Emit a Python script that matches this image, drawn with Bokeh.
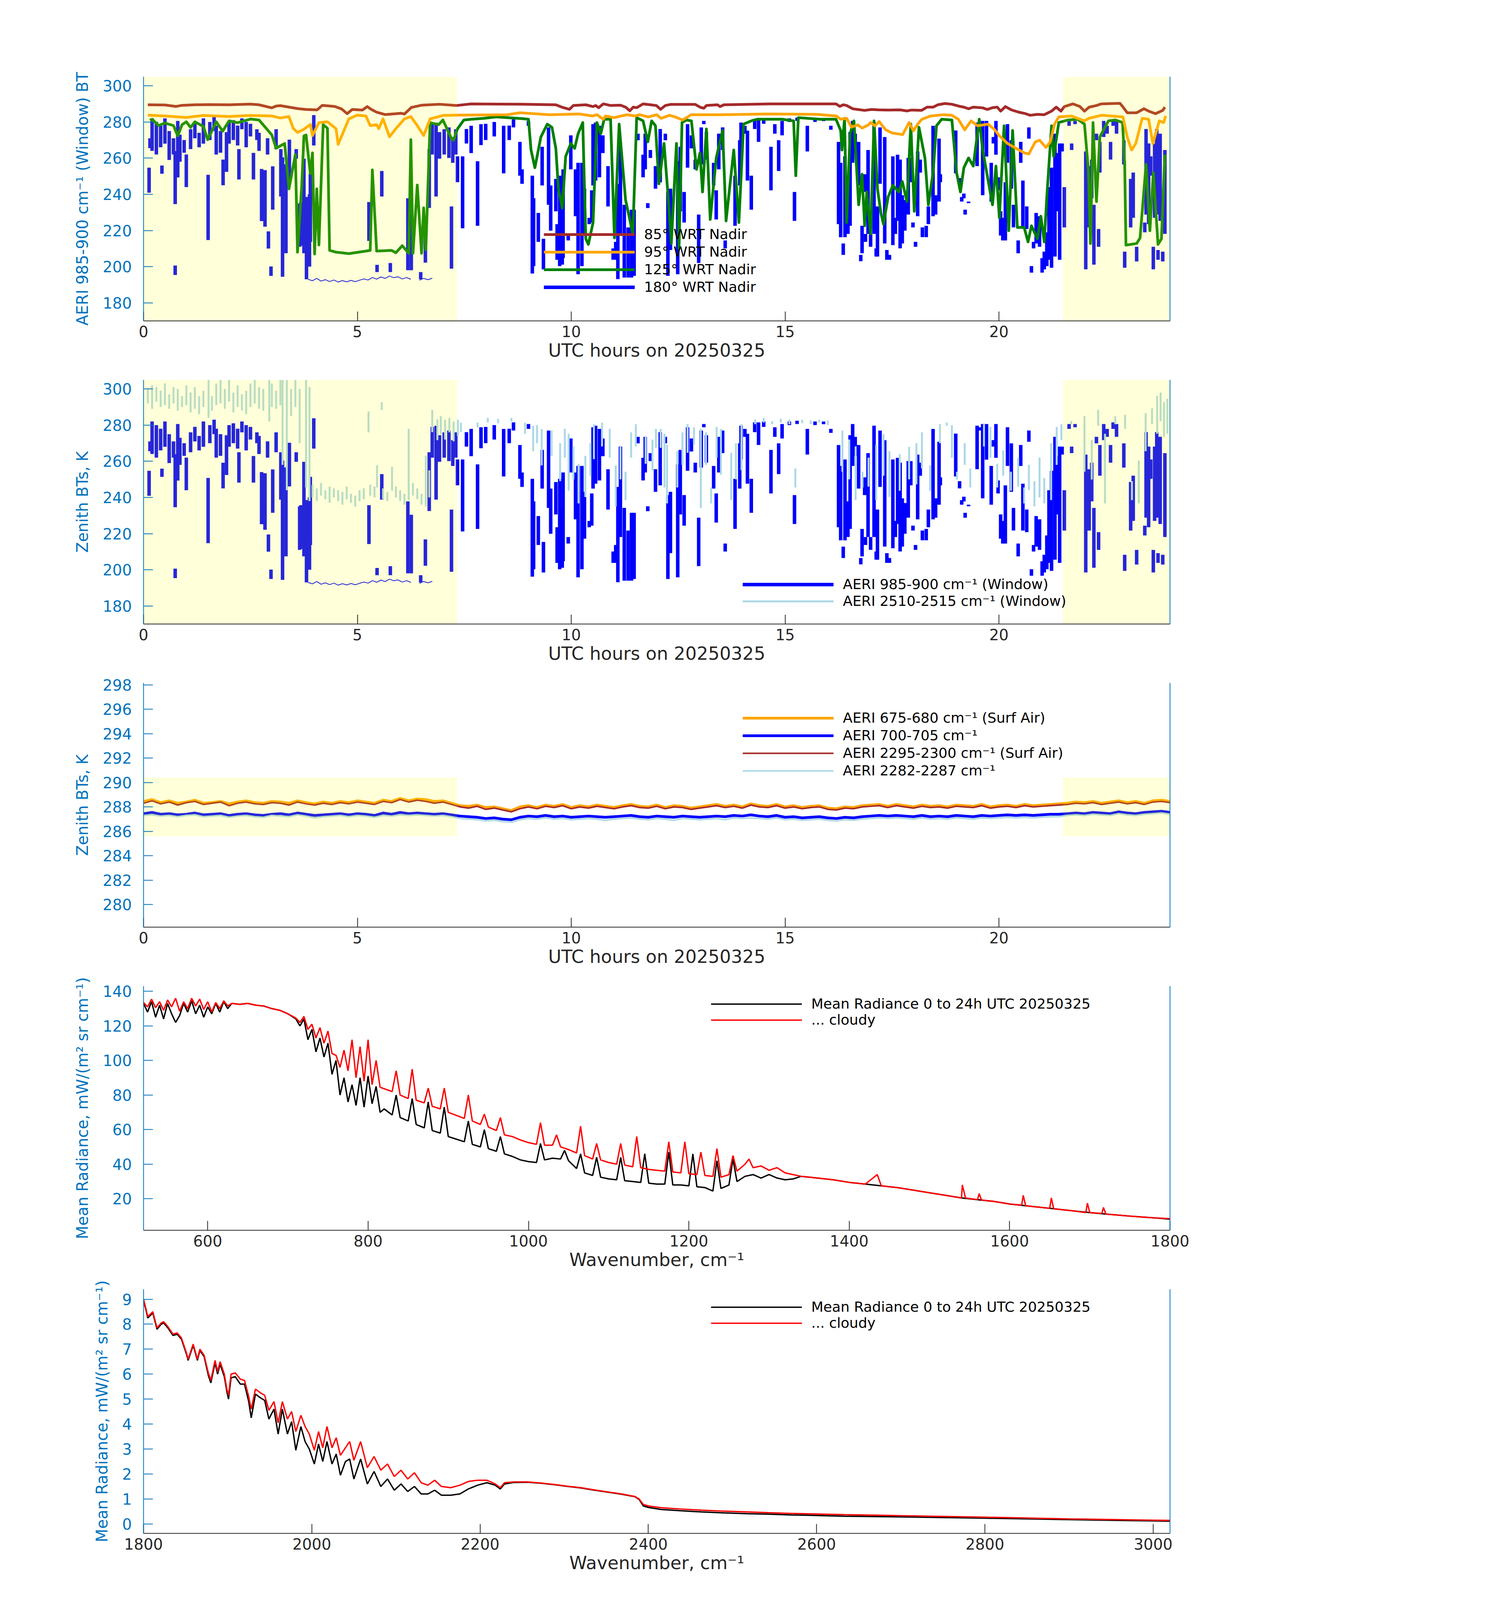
import numpy as np
from bokeh.plotting import figure
from bokeh.layouts import column
from bokeh.models import Range1d, LinearAxis, FixedTicker, Legend, LegendItem
from bokeh.embed import file_html
from bokeh.resources import INLINE

FONT = "DejaVu Sans"
AXBLUE = "#0072BD"
DARK = "#262626"

# ---------------- data ----------------
shade_start = [0.0, 21.5]
shade_end = [7.33, 24.0]

# 85 deg WRT nadir (hour, K)
bt85 = [(0.1, 289.5), (0.5, 289.4), (0.76, 288.6), (0.9, 289.2), (1.2, 289.5), (1.5, 289.6), (2.0, 289.5),
        (2.5, 289.9), (2.7, 289.5), (3.0, 287.8), (3.1, 288.8), (3.2, 289.0), (3.4, 288.2), (3.6, 287.4),
        (3.8, 286.9), (4.06, 286.7), (4.18, 289.2), (4.47, 288.6), (4.63, 287.2), (4.76, 284.6), (4.88, 286.9),
        (5.12, 286.6), (5.23, 288.5), (5.33, 286.9), (5.45, 285.4), (5.65, 284.1), (6.02, 284.8), (6.1, 284.4),
        (6.26, 288.0), (6.51, 289.3), (6.92, 289.8), (7.31, 289.1), (7.66, 290.0), (8.83, 289.8), (9.64, 289.5),
        (9.78, 288.2), (9.96, 287.0), (10.05, 289.1), (10.34, 289.5), (10.51, 288.5), (10.57, 289.1),
        (10.64, 287.9), (10.75, 290.0), (10.92, 289.1), (11.15, 289.3), (11.27, 288.2), (11.37, 286.2),
        (11.45, 288.2), (11.53, 287.9), (11.68, 290.0), (11.85, 289.5), (11.99, 289.1), (12.09, 287.0),
        (12.2, 289.1), (12.32, 289.7), (12.9, 289.7), (13.01, 288.2), (13.1, 287.6), (13.16, 289.1),
        (13.42, 289.5), (13.48, 288.5), (13.57, 289.5), (14.64, 290.0), (15.75, 290.0), (16.19, 290.0),
        (16.28, 288.6), (16.36, 289.5), (16.44, 289.1), (16.58, 287.3), (16.86, 286.4), (17.02, 286.9),
        (17.19, 286.7), (17.41, 286.6), (17.69, 286.7), (17.85, 286.1), (17.96, 286.6), (18.19, 286.4),
        (18.32, 288.2), (18.46, 288.2), (18.57, 289.5), (18.74, 290.2), (18.9, 289.8), (19.07, 288.7),
        (19.18, 288.2), (19.29, 287.3), (19.4, 288.2), (19.62, 287.8), (19.73, 286.9), (19.85, 287.9),
        (19.96, 288.2), (20.04, 286.0), (20.15, 288.5), (20.29, 286.7), (20.45, 285.5), (20.62, 284.6),
        (20.73, 283.7), (20.9, 284.2), (21.06, 284.0), (21.23, 286.0), (21.34, 288.2), (21.45, 286.0),
        (21.53, 288.5), (21.73, 290.0), (21.89, 288.6), (22.0, 286.0), (22.11, 288.2), (22.28, 289.1),
        (22.39, 290.0), (22.83, 290.3), (22.89, 288.6), (23.0, 285.1), (23.22, 285.1), (23.39, 287.3),
        (23.5, 286.0), (23.66, 284.6), (23.83, 286.4), (23.88, 288.2)]

# 95 deg WRT nadir
bt95 = [(0.1, 283.8), (0.5, 283.3), (1.0, 282.5), (1.4, 283.6), (2.0, 283.0), (2.5, 283.6), (3.0, 283.3),
        (3.2, 282.2), (3.4, 283.0), (3.5, 276.5), (3.6, 274.2), (3.75, 276.0), (3.9, 278.6), (3.95, 272.5),
        (4.1, 279.6), (4.3, 280.1), (4.5, 276.3), (4.55, 267.6), (4.8, 281.7), (5.0, 283.8), (5.2, 283.3),
        (5.3, 278.0), (5.45, 278.5), (5.5, 276.3), (5.6, 281.7), (5.75, 271.8), (5.9, 276.3), (6.1, 281.7),
        (6.25, 283.0), (6.4, 278.0), (6.55, 272.5), (6.7, 281.7), (7.0, 283.6), (7.3, 283.8), (8.5, 284.0),
        (8.8, 285.1), (9.5, 284.0), (10.2, 284.4), (10.5, 283.3), (10.6, 284.0), (10.75, 281.5), (10.8, 283.3),
        (11.0, 282.4), (11.3, 284.0), (11.5, 283.3), (11.6, 284.0), (11.8, 282.8), (12.0, 284.0), (12.1, 282.0),
        (12.3, 283.7), (12.45, 282.6), (12.6, 281.1), (12.7, 282.4), (12.8, 284.0), (13.5, 284.0), (14.6, 284.4),
        (15.75, 284.2), (16.2, 283.3), (16.3, 281.5), (16.44, 282.0), (16.55, 277.2), (16.7, 278.4),
        (16.8, 276.6), (16.95, 278.4), (17.0, 279.7), (17.1, 277.9), (17.2, 280.2), (17.35, 275.7),
        (17.5, 273.9), (17.75, 273.0), (17.9, 279.7), (18.0, 275.1), (18.1, 278.8), (18.2, 281.5),
        (18.4, 283.3), (18.7, 284.0), (18.9, 283.7), (19.05, 281.5), (19.2, 275.7), (19.35, 280.6),
        (19.5, 277.9), (19.75, 278.8), (19.9, 275.7), (20.0, 272.6), (20.2, 268.1), (20.4, 265.4),
        (20.6, 262.8), (20.7, 262.3), (20.85, 269.0), (20.95, 269.9), (21.1, 265.9), (21.2, 269.0),
        (21.3, 278.8), (21.4, 282.8), (21.7, 283.3), (22.0, 280.6), (22.1, 282.0), (22.4, 283.7),
        (22.9, 282.8), (23.0, 271.7), (23.1, 264.5), (23.2, 268.1), (23.35, 282.0), (23.5, 281.5),
        (23.6, 268.1), (23.75, 280.6), (23.85, 279.7), (23.9, 283.3)]

# 125 deg WRT nadir
bt125 = [(0.15, 280.9), (0.2, 281.5), (0.35, 278.0), (0.5, 279.4), (0.7, 278.0), (0.8, 272.3), (0.9, 278.5),
         (1.0, 280.1), (1.1, 277.0), (1.2, 280.1), (1.4, 277.5), (1.5, 270.2), (1.7, 280.1), (1.85, 274.9),
         (2.0, 280.6), (2.2, 279.6), (2.5, 281.6), (2.7, 281.1), (3.0, 272.8), (3.1, 265.5), (3.3, 268.1),
         (3.4, 243.0), (3.55, 262.0), (3.6, 208.0), (3.7, 245.1), (3.75, 272.3), (3.8, 272.8), (3.9, 251.4),
         (3.95, 262.9), (4.0, 207.0), (4.05, 243.0), (4.1, 212.0), (4.2, 278.5), (4.3, 276.5), (4.35, 209.0),
         (4.5, 208.0), (4.8, 207.2), (5.2, 208.6), (5.3, 209.0), (5.35, 253.5), (5.45, 208.6), (5.8, 209.0),
         (5.9, 207.7), (6.05, 211.6), (6.2, 207.4), (6.25, 270.2), (6.3, 207.4), (6.4, 245.1), (6.5, 207.4),
         (6.55, 232.5), (6.6, 209.4), (6.7, 279.6), (6.9, 278.5), (7.0, 281.1), (7.2, 270.8), (7.25, 269.9),
         (7.34, 276.2), (7.49, 281.1), (7.66, 281.5), (7.95, 282.0), (8.24, 282.8), (8.83, 281.9), (9.0, 281.5),
         (9.06, 264.5), (9.15, 254.7), (9.29, 271.7), (9.44, 278.8), (9.55, 277.0), (9.64, 265.4), (9.7, 243.1),
         (9.79, 232.4), (9.87, 261.0), (9.99, 268.1), (10.08, 265.4), (10.16, 273.5), (10.27, 279.7),
         (10.34, 215.4), (10.4, 212.3), (10.51, 224.4), (10.6, 279.7), (10.69, 273.5), (10.77, 281.5),
         (10.92, 281.5), (11.01, 215.9), (11.12, 278.8), (11.27, 236.9), (11.44, 218.1), (11.53, 282.4),
         (11.68, 280.6), (11.79, 269.0), (11.88, 280.6), (11.97, 277.9), (12.05, 245.8), (12.17, 268.1),
         (12.26, 240.4), (12.34, 212.8), (12.46, 268.1), (12.52, 210.1), (12.59, 279.7), (12.69, 281.1),
         (12.81, 280.6), (12.93, 253.8), (13.01, 262.8), (13.07, 241.3), (13.16, 276.1), (13.25, 226.1),
         (13.39, 260.1), (13.54, 275.3), (13.62, 225.3), (13.8, 264.5), (13.92, 224.4), (14.03, 278.8),
         (14.21, 280.6), (14.35, 281.5), (14.93, 281.5), (15.2, 280.6), (15.25, 250.3), (15.31, 282.4),
         (15.81, 281.5), (16.19, 281.5), (16.3, 275.3), (16.33, 264.5), (16.39, 282.0), (16.44, 224.4),
         (16.52, 273.5), (16.61, 280.6), (16.72, 234.2), (16.8, 251.1), (16.86, 222.6), (16.91, 241.3),
         (17.0, 218.1), (17.08, 280.6), (17.16, 243.1), (17.24, 229.7), (17.3, 223.5), (17.41, 238.6),
         (17.52, 244.9), (17.66, 241.3), (17.74, 247.1), (17.85, 236.0), (17.94, 278.8), (18.02, 230.6),
         (18.13, 277.1), (18.27, 260.1), (18.35, 234.2), (18.46, 252.0), (18.54, 277.9), (18.66, 281.5),
         (18.9, 281.1), (19.01, 252.0), (19.1, 241.3), (19.18, 254.7), (19.29, 260.1), (19.4, 255.6),
         (19.54, 281.5), (19.62, 264.5), (19.85, 234.2), (19.93, 255.6), (20.01, 227.0), (20.12, 277.9),
         (20.23, 219.9), (20.32, 275.3), (20.43, 221.7), (20.59, 221.7), (20.68, 213.7), (20.76, 222.6),
         (20.9, 215.4), (20.98, 227.9), (21.06, 213.7), (21.12, 238.6), (21.23, 277.9), (21.28, 261.0),
         (21.4, 279.7), (21.62, 281.1), (21.84, 281.5), (22.0, 278.8), (22.09, 253.8), (22.14, 212.8),
         (22.2, 279.7), (22.28, 236.0), (22.36, 271.7), (22.56, 280.6), (22.72, 281.1), (22.89, 279.7),
         (22.94, 257.4), (22.97, 211.9), (23.22, 212.8), (23.3, 215.9), (23.44, 256.5), (23.53, 219.9),
         (23.61, 252.0), (23.72, 212.3), (23.8, 215.4), (23.88, 261.9)]

# 180 deg (zenith) 985-900 cm-1 window BT: vertical strokes (hour, low K, high K)
bt180 = [(0.13, 240.9, 254.7), (0.15, 265.5, 271.0), (0.2, 264.0, 282.0), (0.3, 262.0, 280.0),
         (0.4, 266.0, 278.0), (0.43, 251.4, 255.9), (0.5, 268.0, 282.0), (0.6, 259.0, 275.0),
         (0.7, 262.0, 271.0), (0.74, 234.6, 263.9), (0.74, 195.4, 200.6), (0.8, 249.3, 280.6),
         (0.85, 258.0, 273.0), (0.95, 263.0, 270.0), (1.0, 244.0, 262.0), (1.1, 265.0, 276.0),
         (1.2, 271.0, 279.0), (1.3, 266.0, 274.0), (1.4, 268.0, 282.0), (1.51, 214.7, 250.8),
         (1.55, 270.0, 280.0), (1.65, 275.0, 283.0), (1.7, 262.0, 278.0), (1.8, 263.0, 275.0),
         (1.86, 245.0, 259.2), (1.94, 252.4, 274.4), (2.0, 268.0, 280.0), (2.1, 270.0, 281.0),
         (2.2, 267.0, 278.0), (2.23, 248.2, 265.0), (2.3, 276.0, 282.0), (2.4, 266.0, 280.0),
         (2.5, 272.0, 279.0), (2.57, 248.2, 262.9), (2.65, 270.0, 276.0), (2.7, 264.0, 274.0),
         (2.76, 225.2, 254.0), (2.84, 222.1, 253.4), (2.9, 262.0, 271.0), (2.92, 210.0, 219.5),
         (2.98, 194.9, 200.1), (3.02, 231.5, 255.5), (3.1, 265.0, 276.0), (3.21, 238.8, 265.0),
         (3.25, 194.4, 260.4), (3.33, 207.4, 256.6), (3.41, 246.1, 270.2), (3.57, 259.7, 265.0),
         (3.65, 211.0, 235.0), (3.68, 211.6, 235.7), (3.75, 207.4, 259.7), (3.81, 193.0, 238.5),
         (3.88, 200.0, 240.0), (3.9, 213.7, 251.4), (3.98, 267.0, 283.8), (5.27, 214.2, 235.7),
         (5.46, 197.0, 201.0), (5.57, 238.8, 252.9), (5.77, 197.0, 202.0), (6.18, 198.0, 237.8),
         (6.26, 198.0, 230.4), (6.48, 193.0, 197.0), (6.59, 202.2, 216.8), (6.68, 232.5, 265.0),
         (6.75, 262.0, 279.0), (6.84, 238.8, 279.6), (6.92, 259.7, 274.4), (7.03, 262.0, 276.0),
         (7.14, 260.1, 277.0), (7.2, 198.9, 233.3), (7.23, 257.4, 271.7), (7.3, 262.0, 276.0),
         (7.34, 246.7, 261.0), (7.46, 221.2, 261.0), (7.55, 268.1, 276.1), (7.66, 262.8, 277.9),
         (7.81, 222.6, 258.3), (7.89, 267.2, 278.8), (8.0, 270.0, 279.0), (8.2, 272.0, 280.0),
         (8.42, 251.6, 277.9), (8.55, 270.0, 278.0), (8.65, 277.0, 281.5), (8.8, 250.3, 269.0),
         (8.85, 245.8, 253.8), (9.0, 277.9, 280.6), (9.09, 196.2, 250.3), (9.12, 200.3, 237.8),
         (9.23, 213.7, 229.7), (9.32, 244.9, 266.3), (9.35, 198.5, 215.4), (9.47, 234.2, 277.0),
         (9.52, 219.9, 244.9), (9.64, 230.6, 248.5), (9.67, 203.8, 223.5), (9.73, 200.3, 250.3),
         (9.79, 201.1, 234.2), (9.81, 204.7, 253.8), (9.93, 214.5, 218.1), (9.99, 253.8, 272.6),
         (10.1, 227.9, 253.8), (10.16, 195.8, 257.4), (10.25, 200.3, 257.4), (10.31, 217.2, 243.1),
         (10.42, 223.5, 227.0), (10.48, 224.4, 242.2), (10.51, 244.9, 278.8), (10.57, 247.6, 279.7),
         (10.66, 249.4, 277.9), (10.74, 262.8, 272.6), (10.86, 233.3, 255.6), (10.98, 203.8, 210.1),
         (11.04, 203.8, 213.7), (11.09, 193.1, 245.8), (11.15, 218.1, 268.1), (11.24, 194.0, 234.2),
         (11.33, 194.0, 221.7), (11.41, 194.0, 231.5), (11.47, 194.9, 231.5), (11.56, 269.9, 273.5),
         (11.68, 249.4, 261.9), (11.73, 253.8, 273.5), (11.79, 232.4, 235.1), (11.85, 260.1, 264.5),
         (11.97, 243.1, 255.6), (12.08, 246.7, 276.1), (12.2, 269.9, 273.5), (12.26, 194.9, 241.3),
         (12.32, 209.2, 243.1), (12.49, 195.8, 258.3), (12.55, 230.6, 266.3), (12.64, 224.4, 241.3),
         (12.72, 254.7, 278.8), (12.81, 265.4, 272.6), (12.9, 253.8, 259.2), (12.98, 202.0, 228.8),
         (13.04, 256.5, 277.0), (13.1, 278.8, 280.6), (13.16, 259.2, 274.4), (13.33, 244.9, 257.4),
         (13.39, 226.1, 242.2), (13.45, 253.8, 273.5), (13.54, 264.5, 277.0), (13.6, 210.1, 214.5),
         (13.83, 222.6, 250.3), (13.94, 244.9, 269.9), (13.97, 261.0, 279.7), (14.06, 273.5, 277.9),
         (14.12, 247.6, 275.2), (14.21, 231.5, 250.3), (14.29, 276.1, 281.5), (14.38, 269.0, 281.5),
         (14.5, 279.0, 282.0), (14.67, 242.2, 266.3), (14.76, 273.5, 278.8), (14.85, 252.9, 269.9),
         (14.93, 272.6, 280.6), (15.1, 280.0, 282.0), (15.22, 225.3, 241.3), (15.28, 280.6, 282.4),
         (15.52, 263.7, 277.9), (15.7, 280.0, 282.0), (15.9, 280.5, 282.0), (16.07, 275.7, 277.9),
         (16.25, 223.5, 269.0), (16.3, 216.3, 257.4), (16.36, 206.5, 212.8), (16.4, 216.3, 261.0),
         (16.47, 218.1, 237.8), (16.52, 222.6, 274.4), (16.58, 257.4, 280.6), (16.64, 262.8, 273.5),
         (16.72, 244.9, 269.0), (16.77, 203.0, 206.5), (16.8, 207.4, 222.6), (16.86, 241.3, 251.1),
         (16.88, 213.7, 218.1), (16.94, 218.1, 264.5), (17.0, 211.0, 218.1), (17.08, 218.1, 279.7),
         (17.13, 205.6, 210.1), (17.16, 205.6, 233.3), (17.22, 245.8, 277.0), (17.33, 212.8, 271.7),
         (17.38, 203.8, 209.2), (17.44, 203.8, 206.5), (17.52, 211.9, 261.0), (17.58, 218.1, 227.0),
         (17.63, 225.3, 261.9), (17.69, 210.1, 259.2), (17.74, 212.8, 239.5), (17.8, 219.9, 236.9),
         (17.88, 228.8, 260.1), (17.94, 246.7, 260.1), (17.99, 221.7, 224.4), (18.05, 211.0, 213.7),
         (18.1, 227.9, 263.7), (18.16, 252.0, 259.2), (18.21, 216.3, 221.7), (18.3, 216.3, 222.6),
         (18.35, 223.5, 233.3), (18.46, 227.9, 277.9), (18.52, 228.8, 239.5), (18.6, 236.0, 270.8),
         (18.63, 246.7, 251.1), (18.99, 251.6, 275.3), (19.08, 245.0, 249.0), (19.13, 236.0, 238.5),
         (19.18, 237.8, 240.4), (19.21, 228.8, 231.5), (19.29, 235.1, 236.0), (19.49, 255.6, 279.7),
         (19.57, 277.0, 278.8), (19.62, 239.5, 280.6), (19.71, 260.9, 280.6), (19.82, 236.0, 257.4),
         (19.87, 268.1, 271.7), (19.93, 261.9, 280.6), (19.98, 242.2, 249.4), (20.04, 217.2, 230.6),
         (20.09, 214.5, 227.0), (20.15, 214.5, 246.7), (20.2, 257.4, 278.8), (20.29, 243.1, 269.9),
         (20.34, 221.7, 234.2), (20.45, 207.4, 214.5), (20.51, 257.4, 269.0), (20.56, 221.7, 247.6),
         (20.65, 220.8, 233.3), (20.7, 270.8, 277.0), (20.76, 196.7, 200.3), (20.81, 210.1, 213.7),
         (20.87, 212.8, 229.7), (20.95, 211.0, 227.9), (21.01, 196.7, 204.7), (21.06, 198.5, 208.3),
         (21.12, 200.3, 219.0), (21.17, 203.8, 244.0), (21.23, 199.4, 254.7), (21.31, 205.6, 273.5),
         (21.37, 230.6, 262.8), (21.42, 203.8, 268.1), (21.48, 263.7, 268.1), (21.53, 221.7, 244.0),
         (21.64, 277.9, 280.6), (21.7, 264.5, 268.1), (21.78, 278.8, 280.6), (22.03, 198.5, 263.7),
         (22.11, 221.7, 255.6), (22.17, 237.8, 259.2), (22.22, 201.1, 234.2), (22.28, 269.9, 273.5),
         (22.33, 211.0, 220.8), (22.36, 252.0, 269.0), (22.45, 271.7, 280.6), (22.53, 273.5, 277.9),
         (22.61, 259.2, 269.0), (22.67, 277.9, 281.5), (22.75, 273.5, 280.6), (22.92, 256.5, 269.9),
         (22.94, 199.4, 208.3), (23.08, 221.7, 248.5), (23.14, 227.0, 252.0), (23.22, 202.9, 211.0),
         (23.41, 219.0, 224.4), (23.44, 228.8, 276.1), (23.5, 223.5, 268.1), (23.55, 250.3, 261.0),
         (23.61, 198.5, 211.0), (23.64, 227.0, 268.1), (23.69, 228.8, 276.1), (23.72, 203.8, 209.2),
         (23.77, 225.3, 273.5), (23.83, 202.9, 208.3), (23.88, 218.1, 264.5)]

# thin floor of the zenith window BT under thick cloud (hour, K)
bt180_floor = [(3.85, 193.0), (3.95, 192.2), (4.05, 193.5), (4.15, 192.0), (4.25, 192.8), (4.35, 191.8),
               (4.45, 192.6), (4.55, 191.5), (4.65, 192.3), (4.75, 191.6), (4.85, 192.4), (4.95, 191.7),
               (5.05, 192.5), (5.15, 193.2), (5.25, 192.6), (5.35, 194.0), (5.45, 193.1), (5.55, 194.3),
               (5.65, 193.5), (5.75, 194.8), (5.85, 193.9), (5.95, 194.4), (6.05, 193.2), (6.15, 194.0),
               (6.25, 193.0), (6.35, float("nan")), (6.45, 192.5), (6.55, 193.5), (6.65, 192.8), (6.75, 193.6)]

# 2510-2515 cm-1 window BT strokes (hour, low K, high K)
bt2510 = [(0.1, 292.0, 300.0), (0.2, 289.0, 302.0), (0.3, 293.0, 301.0), (0.4, 290.0, 299.0),
          (0.5, 291.0, 303.0), (0.6, 289.0, 297.0), (0.7, 292.0, 301.0), (0.8, 288.0, 300.0),
          (0.9, 290.0, 296.0), (1.0, 291.0, 302.0), (1.1, 287.0, 298.0), (1.2, 289.0, 301.0),
          (1.3, 286.0, 296.0), (1.4, 290.0, 299.0), (1.52, 284.0, 305.0), (1.6, 288.0, 296.0),
          (1.7, 291.0, 303.0), (1.8, 292.0, 305.0), (1.9, 289.0, 300.0), (2.0, 293.0, 305.0),
          (2.1, 287.0, 298.0), (2.2, 290.0, 302.0), (2.3, 288.0, 297.0), (2.4, 286.0, 299.0),
          (2.5, 290.0, 303.0), (2.6, 292.0, 305.0), (2.7, 289.0, 301.0), (2.8, 288.0, 300.0),
          (2.94, 282.0, 305.0), (3.0, 290.0, 303.0), (3.1, 289.0, 299.0), (3.2, 291.0, 305.0),
          (3.25, 258.0, 305.0), (3.35, 244.0, 305.0), (3.45, 285.0, 300.0), (3.55, 290.0, 305.0),
          (3.65, 270.0, 300.0), (3.8, 245.5, 305.0), (3.88, 238.0, 301.0), (3.95, 240.0, 247.0),
          (4.05, 238.0, 245.0), (4.15, 241.0, 248.0), (4.25, 239.0, 244.0), (4.35, 237.0, 246.0),
          (4.45, 240.0, 245.0), (4.55, 238.0, 244.0), (4.65, 236.0, 243.0), (4.75, 239.0, 246.0),
          (4.85, 237.0, 242.0), (4.95, 235.0, 241.0), (5.05, 238.0, 244.0), (5.15, 239.0, 245.0),
          (5.26, 276.0, 287.5), (5.3, 241.0, 247.0), (5.4, 240.0, 246.0), (5.46, 245.5, 257.7),
          (5.57, 288.4, 292.7), (5.6, 239.0, 245.0), (5.7, 238.0, 243.0), (5.81, 243.7, 256.9),
          (5.9, 240.0, 246.0), (6.0, 238.0, 244.0), (6.1, 236.0, 242.0), (6.2, 238.5, 277.9),
          (6.3, 241.0, 248.0), (6.4, 239.0, 245.0), (6.5, 236.0, 242.0), (6.6, 235.0, 263.0),
          (6.68, 240.0, 255.0), (6.75, 276.1, 288.4), (6.87, 271.7, 283.1), (6.95, 275.0, 285.0),
          (7.05, 272.0, 283.0), (7.15, 276.0, 284.0), (7.25, 271.0, 282.0), (7.35, 274.0, 283.0),
          (7.42, 276.1, 281.4), (7.81, 278.7, 281.4), (8.05, 281.4, 284.0), (8.29, 281.0, 283.5),
          (8.6, 282.0, 284.0), (8.92, 275.2, 281.4), (9.11, 265.6, 279.6), (9.2, 270.0, 280.0),
          (9.31, 257.7, 277.9), (9.54, 263.0, 277.0), (9.74, 249.0, 270.0), (9.85, 262.0, 278.0),
          (9.94, 243.7, 275.2), (10.05, 250.0, 268.0), (10.17, 236.7, 258.6), (10.33, 240.2, 263.0),
          (10.45, 252.0, 270.0), (10.53, 261.2, 280.5), (10.72, 268.2, 281.4), (10.9, 262.0, 278.0),
          (11.04, 235.0, 257.7), (11.15, 250.0, 268.0), (11.27, 238.5, 254.2), (11.4, 262.0, 276.0),
          (11.51, 268.2, 280.5), (11.74, 258.6, 273.5), (11.9, 255.0, 272.0), (11.98, 267.4, 277.9),
          (12.09, 267.4, 277.9), (12.18, 245.5, 275.2), (12.24, 236.7, 269.1), (12.48, 245.5, 265.6),
          (12.6, 258.0, 276.0), (12.72, 264.7, 280.5), (12.87, 269.1, 278.7), (13.03, 234.1, 277.9),
          (13.15, 258.0, 276.0), (13.27, 236.7, 245.5), (13.4, 262.0, 279.0), (13.5, 252.5, 277.9),
          (13.74, 238.5, 264.7), (13.85, 250.0, 270.0), (13.98, 255.1, 280.5), (14.3, 280.5, 283.1),
          (14.5, 281.4, 284.0), (14.7, 280.5, 282.2), (14.9, 281.4, 283.5), (15.1, 280.5, 283.1),
          (15.24, 245.5, 256.0), (15.4, 281.0, 283.0), (15.6, 280.5, 282.5), (15.8, 281.4, 283.0),
          (16.0, 280.0, 282.5), (16.34, 254.2, 277.0), (16.5, 250.0, 272.0), (16.65, 238.5, 268.2),
          (16.81, 245.5, 254.2), (16.95, 246.0, 262.0), (17.13, 238.5, 269.1), (17.3, 252.0, 275.0),
          (17.44, 240.2, 265.6), (17.68, 243.7, 263.9), (17.9, 250.0, 268.0), (18.07, 247.2, 270.0),
          (18.2, 256.0, 276.0), (18.39, 243.7, 257.7), (18.62, 270.0, 280.5), (18.78, 279.6, 281.4),
          (18.9, 262.0, 280.0), (19.02, 249.9, 254.2), (19.2, 258.0, 270.0), (19.33, 245.5, 256.0),
          (19.65, 268.2, 280.5), (19.8, 262.0, 279.0), (19.96, 245.5, 258.6), (20.1, 252.0, 266.0),
          (20.28, 243.7, 254.2), (20.45, 246.0, 262.0), (20.59, 236.7, 245.5), (20.7, 244.0, 258.0),
          (20.83, 235.0, 249.0), (20.95, 240.0, 262.0), (21.06, 236.7, 250.7), (21.22, 238.5, 270.0),
          (21.35, 258.0, 279.0), (21.46, 271.7, 280.5), (21.69, 280.5, 282.2), (22.0, 254.2, 284.9),
          (22.17, 249.9, 271.7), (22.32, 279.6, 288.4), (22.48, 236.7, 275.2), (22.72, 280.5, 284.9),
          (22.95, 277.9, 285.7), (23.11, 238.5, 249.0), (23.27, 236.7, 260.4), (23.43, 265.6, 286.6),
          (23.58, 280.5, 289.3), (23.7, 275.2, 296.2), (23.78, 282.2, 298.0), (23.86, 273.5, 292.7),
          (23.94, 275.2, 294.5)]

# surface-air channels, sampled every 0.2 h from 0 to 24 h (K)
sa_675 = [288.45, 288.6, 288.35, 288.5, 288.3, 288.4, 288.55, 288.3, 288.35, 288.45,
          288.25, 288.4, 288.5, 288.35, 288.3, 288.45, 288.4, 288.3, 288.5, 288.35,
          288.25, 288.4, 288.3, 288.45, 288.35, 288.5, 288.4, 288.3, 288.55, 288.45,
          288.7, 288.5, 288.65, 288.6, 288.45, 288.5, 288.3,
          288.1, 288.05, 288.15, 287.95, 288.0, 287.85, 287.7, 288.0, 288.1, 287.95,
          288.15, 288.05, 288.2, 287.95, 288.1, 288.0, 288.15, 288.05, 287.95, 288.1,
          288.2, 288.05, 288.0, 288.15, 287.95, 288.1, 288.05, 287.9, 288.0, 288.1,
          288.2, 288.05, 288.15, 288.0, 288.25, 288.1, 288.05, 288.2, 288.0, 288.1,
          287.95, 288.05, 288.1, 287.9, 287.85, 288.0, 287.95, 288.1, 288.15, 288.2,
          288.05, 288.2, 288.1, 288.0, 288.15, 288.05, 288.1, 288.0, 288.15, 288.1,
          288.05, 288.2, 288.0, 288.1, 288.15, 288.05, 288.2, 288.1, 288.15, 288.2,
          288.25,
          288.3, 288.4, 288.35, 288.45, 288.3, 288.4, 288.5, 288.35, 288.45, 288.3, 288.5, 288.55, 288.45]
sa_700 = [287.45, 287.55, 287.4, 287.45, 287.35, 287.4, 287.5, 287.35, 287.4, 287.45,
          287.3, 287.4, 287.45, 287.35, 287.3, 287.4, 287.45, 287.35, 287.5, 287.4,
          287.3, 287.35, 287.4, 287.45, 287.35, 287.45, 287.4, 287.3, 287.5, 287.4,
          287.55, 287.45, 287.5, 287.45, 287.4, 287.45, 287.35,
          287.25, 287.2, 287.15, 287.05, 287.1, 287.0, 286.95, 287.15, 287.25, 287.2,
          287.3, 287.2, 287.25, 287.15, 287.2, 287.25, 287.2, 287.15, 287.2, 287.25,
          287.3, 287.2, 287.15, 287.25, 287.2, 287.15, 287.25, 287.2, 287.15, 287.2,
          287.25, 287.2, 287.3, 287.25, 287.35, 287.25, 287.2, 287.3, 287.15, 287.2,
          287.1, 287.15, 287.2, 287.1, 287.05, 287.15, 287.1, 287.2, 287.25, 287.3,
          287.25, 287.3, 287.25, 287.2, 287.3, 287.2, 287.25, 287.2, 287.3, 287.25,
          287.2, 287.3, 287.25, 287.3, 287.35, 287.3, 287.35, 287.3, 287.35, 287.4,
          287.4,
          287.45, 287.5, 287.45, 287.55, 287.5, 287.45, 287.6, 287.5, 287.45, 287.55, 287.6, 287.65, 287.55]
sa_2295 = [288.3, 288.5, 288.25, 288.4, 288.15, 288.35, 288.45, 288.2, 288.3, 288.4,
           288.1, 288.3, 288.4, 288.25, 288.2, 288.35, 288.3, 288.15, 288.4, 288.25,
           288.15, 288.3, 288.2, 288.35, 288.25, 288.4, 288.3, 288.2, 288.45, 288.35,
           288.6, 288.4, 288.55, 288.45, 288.3, 288.4, 288.2,
           288.0, 287.9, 288.05, 287.8, 287.9, 287.75, 287.6, 287.85, 288.0, 287.85,
           288.05, 287.95, 288.1, 287.85, 288.0, 287.9, 288.05, 287.95, 287.85, 288.0,
           288.1, 287.95, 287.9, 288.05, 287.85, 288.0, 287.95, 287.8, 287.9, 288.0,
           288.1, 287.95, 288.05, 287.9, 288.15, 288.0, 287.95, 288.1, 287.9, 288.0,
           287.85, 287.95, 288.0, 287.8, 287.75, 287.9, 287.85, 288.0, 288.05, 288.1,
           287.95, 288.1, 288.0, 287.9, 288.05, 287.95, 288.0, 287.9, 288.05, 288.0,
           287.95, 288.1, 287.9, 288.0, 288.05, 287.95, 288.1, 288.0, 288.05, 288.1,
           288.15,
           288.2, 288.3, 288.25, 288.35, 288.2, 288.3, 288.4, 288.25, 288.35, 288.2, 288.4, 288.45, 288.35]
sa_2282 = [287.3, 287.35, 287.25, 287.3, 287.2, 287.3, 287.35, 287.2, 287.25, 287.3,
           287.15, 287.25, 287.3, 287.2, 287.15, 287.3, 287.25, 287.2, 287.35, 287.25,
           287.1, 287.2, 287.25, 287.3, 287.2, 287.3, 287.25, 287.15, 287.3, 287.25,
           287.35, 287.3, 287.35, 287.3, 287.25, 287.3, 287.2,
           287.05, 287.0, 286.95, 286.85, 286.9, 286.8, 286.75, 286.95, 287.05, 287.0,
           287.1, 287.0, 287.05, 286.95, 287.0, 287.05, 287.0, 286.9, 287.0, 287.05,
           287.1, 287.0, 286.95, 287.05, 287.0, 286.9, 287.05, 287.0, 286.95, 287.0,
           287.05, 286.95, 287.1, 287.05, 287.1, 287.05, 287.0, 287.1, 286.95, 287.0,
           286.9, 286.95, 287.0, 286.9, 286.85, 286.95, 286.9, 287.0, 287.05, 287.1,
           287.05, 287.1, 287.05, 287.0, 287.1, 287.0, 287.05, 287.0, 287.1, 287.05,
           287.0, 287.1, 287.05, 287.1, 287.15, 287.1, 287.15, 287.1, 287.15, 287.2,
           287.2,
           287.3, 287.35, 287.3, 287.4, 287.35, 287.3, 287.45, 287.35, 287.3, 287.4, 287.45, 287.5, 287.4]
sa_shade = (285.6, 290.4)

# mean radiance, longwave band (wavenumber, mW/(m2 sr cm-1))
rad_lw_mean = [(520, 133), (525, 128), (530, 134), (535, 125), (540, 132), (545, 124), (550, 133), (555, 127),
               (560, 122), (565, 126), (570, 133), (575, 128), (580, 134.5), (585, 127), (590, 132), (595, 125),
               (600, 131), (605, 127), (610, 133), (615, 128), (620, 134), (625, 130), (630, 133), (640, 132.5),
               (650, 133), (660, 132), (670, 131.5), (680, 130), (690, 129), (700, 127), (710, 124), (715, 120),
               (720, 124), (725, 112), (730, 118), (735, 105), (740, 113), (745, 102), (750, 110), (755, 92),
               (760, 100), (765, 80), (770, 90), (775, 76), (780, 86), (785, 74), (790, 90), (795, 73), (800, 91),
               (805, 75), (810, 85), (815, 70), (820, 72), (830, 68.5), (835, 80), (840, 67), (850, 65), (855, 78),
               (860, 63), (870, 61), (875, 76), (880, 59.5), (890, 58), (895, 73), (900, 56), (910, 54.5),
               (920, 53), (925, 65), (930, 51.5), (940, 50), (945, 60), (950, 49), (960, 47.5), (965, 56),
               (970, 46), (980, 44.5), (990, 42.5), (1000, 41.5), (1010, 41), (1015, 52), (1020, 42.5),
               (1030, 43.5), (1040, 43), (1045, 48), (1050, 42), (1060, 37.5), (1065, 46), (1070, 35),
               (1080, 33.5), (1085, 44), (1090, 32.5), (1100, 31.5), (1110, 31), (1115, 44), (1120, 30.5),
               (1130, 30), (1140, 29.5), (1145, 46), (1150, 29), (1160, 28.5), (1170, 28.5), (1175, 47),
               (1180, 28), (1190, 28), (1200, 27.5), (1205, 46), (1210, 27), (1220, 26.5), (1230, 24.5),
               (1235, 42), (1240, 26), (1250, 28), (1255, 43), (1260, 30), (1270, 33), (1280, 34), (1290, 32),
               (1300, 34), (1310, 32), (1320, 31), (1330, 31.5), (1340, 33), (1350, 32.5), (1360, 32),
               (1380, 31), (1400, 29.5), (1420, 28.5), (1440, 27.5), (1460, 26.5), (1480, 25), (1500, 23.5),
               (1520, 22), (1540, 20.5), (1560, 19.5), (1580, 18.5), (1600, 17), (1620, 16), (1650, 14.5),
               (1680, 13), (1700, 12), (1720, 11.2), (1750, 10), (1780, 9), (1800, 8.2)]
rad_lw_cloudy = [(520, 133.5), (525, 131), (530, 135.5), (535, 130.5), (540, 134), (545, 129), (550, 135),
                 (555, 131), (560, 136), (565, 128.5), (570, 134), (575, 130), (580, 136), (585, 131.5),
                 (590, 135.5), (595, 129.5), (600, 134), (605, 128), (610, 133.5), (615, 130), (620, 134.5),
                 (625, 131.5), (630, 133), (640, 132.5), (650, 133), (660, 132), (670, 131.5), (680, 130),
                 (690, 129), (700, 127), (710, 124.5), (715, 122), (720, 125.5), (725, 118), (730, 121),
                 (735, 113), (740, 119), (745, 110), (750, 117), (755, 104), (760, 103), (765, 96), (770, 106),
                 (775, 94), (780, 112), (785, 90), (790, 108), (795, 88), (800, 112), (805, 86), (810, 100),
                 (815, 84.5), (830, 82), (835, 94), (840, 80), (850, 78), (855, 95), (860, 77), (870, 75.5),
                 (875, 84), (880, 73.5), (890, 72), (895, 84), (900, 70), (920, 66.5), (925, 80), (930, 65),
                 (940, 63), (945, 69), (950, 61.5), (960, 59.5), (965, 67), (970, 57), (980, 56), (990, 54),
                 (1000, 52.5), (1010, 51.5), (1015, 64), (1020, 51), (1030, 51), (1035, 57), (1040, 50),
                 (1050, 48.5), (1060, 46.5), (1065, 62), (1070, 45), (1080, 43), (1085, 52), (1090, 42.5),
                 (1100, 41), (1110, 40), (1115, 52), (1120, 39.5), (1130, 38.5), (1135, 56), (1140, 38),
                 (1150, 37), (1160, 36.5), (1170, 36), (1175, 53), (1180, 35.5), (1190, 35), (1195, 53),
                 (1200, 34.5), (1210, 34), (1215, 47), (1220, 33.5), (1230, 33), (1235, 49), (1240, 32.5),
                 (1250, 34), (1255, 45), (1260, 36), (1270, 40), (1275, 43), (1280, 38), (1290, 39),
                 (1300, 36.5), (1310, 38), (1320, 35), (1330, 34), (1340, 33), (1350, 32.5), (1360, 32),
                 (1380, 31), (1400, 29.5), (1420, 28.5), (1435, 34), (1440, 27.5), (1460, 26.5), (1480, 25),
                 (1500, 23.5), (1520, 22), (1540, 20.5), (1541, 28), (1545, 20.5), (1560, 19.5), (1562, 23),
                 (1565, 19.3), (1580, 18.5), (1600, 17), (1615, 16.3), (1617, 22), (1620, 16), (1650, 14.5),
                 (1652, 20.5), (1655, 14.2), (1680, 13), (1695, 12), (1697, 17.5), (1700, 12), (1715, 11.5),
                 (1717, 15), (1720, 11.2), (1750, 10), (1780, 9), (1800, 8.5)]

# mean radiance, shortwave band
rad_sw_mean = [(1800, 8.95), (1803, 8.55), (1805, 8.25), (1811, 8.45), (1816, 7.8), (1821, 8.0), (1824, 8.05),
               (1829, 7.85), (1835, 7.55), (1840, 7.6), (1845, 7.4), (1851, 6.8), (1853, 6.55), (1859, 7.15),
               (1864, 6.55), (1867, 6.95), (1872, 6.7), (1877, 5.95), (1880, 5.65), (1885, 6.45), (1888, 6.0),
               (1891, 6.4), (1896, 5.9), (1899, 5.3), (1901, 5.0), (1904, 5.85), (1909, 5.9), (1915, 5.6),
               (1920, 5.6), (1925, 4.9), (1928, 4.25), (1933, 5.2), (1939, 5.05), (1944, 4.95), (1949, 4.2),
               (1955, 4.6), (1960, 3.6), (1965, 4.6), (1971, 3.6), (1976, 4.1), (1981, 2.95), (1987, 3.9),
               (1992, 3.3), (1997, 3.0), (2003, 2.4), (2008, 3.2), (2013, 2.5), (2018, 3.3), (2024, 2.4),
               (2029, 2.8), (2034, 1.95), (2040, 2.5), (2045, 2.6), (2050, 1.8), (2058, 2.6), (2066, 1.6),
               (2074, 2.1), (2082, 1.5), (2090, 1.8), (2098, 1.35), (2106, 1.6), (2114, 1.3), (2122, 1.5),
               (2130, 1.2), (2138, 1.2), (2146, 1.35), (2154, 1.15), (2165, 1.15), (2176, 1.2), (2186, 1.4),
               (2197, 1.55), (2208, 1.65), (2218, 1.55), (2224, 1.4), (2229, 1.6), (2240, 1.66), (2256, 1.67),
               (2272, 1.63), (2288, 1.57), (2304, 1.5), (2320, 1.44), (2336, 1.35), (2352, 1.27), (2368, 1.19),
               (2384, 1.09), (2389, 0.98), (2394, 0.72), (2400, 0.66), (2415, 0.58), (2437, 0.53), (2463, 0.48),
               (2490, 0.44), (2517, 0.41), (2543, 0.39), (2570, 0.36), (2597, 0.34), (2633, 0.31), (2700, 0.28),
               (2800, 0.23), (2900, 0.17), (3000, 0.12), (3020, 0.11)]
rad_sw_cloudy = [(1800, 9.0), (1803, 8.6), (1805, 8.3), (1811, 8.5), (1816, 7.85), (1821, 8.05), (1824, 8.1),
                 (1829, 7.9), (1835, 7.6), (1840, 7.65), (1845, 7.45), (1851, 6.85), (1853, 6.6), (1859, 7.2),
                 (1864, 6.6), (1867, 7.0), (1872, 6.75), (1877, 6.05), (1880, 5.75), (1885, 6.55), (1888, 6.1),
                 (1891, 6.5), (1896, 6.0), (1899, 5.4), (1901, 5.15), (1904, 6.0), (1909, 6.05), (1915, 5.8),
                 (1920, 5.75), (1925, 5.1), (1928, 4.6), (1933, 5.4), (1939, 5.25), (1944, 5.15), (1949, 4.55),
                 (1955, 4.9), (1960, 4.05), (1965, 4.9), (1971, 4.2), (1976, 4.5), (1981, 3.7), (1987, 4.35),
                 (1992, 3.9), (1997, 3.6), (2003, 2.95), (2008, 3.7), (2013, 3.05), (2018, 3.9), (2024, 3.05),
                 (2029, 3.45), (2034, 2.75), (2040, 3.05), (2045, 3.3), (2050, 2.55), (2058, 3.3), (2066, 2.25),
                 (2074, 2.7), (2082, 2.15), (2090, 2.4), (2098, 1.9), (2106, 2.15), (2114, 1.8), (2122, 2.05),
                 (2130, 1.65), (2138, 1.55), (2146, 1.75), (2154, 1.5), (2165, 1.45), (2176, 1.55), (2186, 1.7),
                 (2197, 1.75), (2208, 1.75), (2218, 1.6), (2224, 1.45), (2229, 1.65), (2240, 1.68), (2256, 1.68),
                 (2272, 1.64), (2288, 1.58), (2304, 1.51), (2320, 1.45), (2336, 1.36), (2352, 1.28), (2368, 1.2),
                 (2384, 1.1), (2389, 1.0), (2394, 0.78), (2400, 0.72), (2415, 0.65), (2437, 0.6), (2463, 0.55),
                 (2490, 0.51), (2517, 0.48), (2543, 0.45), (2570, 0.42), (2597, 0.4), (2633, 0.37), (2700, 0.33),
                 (2800, 0.27), (2900, 0.2), (3000, 0.15), (3020, 0.14)]

hour_ticks = [0, 5, 10, 15, 20]
date = "20250325"


def cols(pairs):
    return [list(c) for c in zip(*pairs)]


# the photographed area is only about 4160 px tall, so the panels are squeezed vertically
FRAME_W, FRAME_H = 2628, 625


def make_fig(xr, yr, xticks, yticks, xlabel, ylabel, top):
    p = figure(frame_width=FRAME_W, frame_height=FRAME_H, x_range=Range1d(*xr), y_range=Range1d(*yr),
               min_border_left=367, min_border_right=60, min_border_top=top, min_border_bottom=118,
               output_backend="svg", toolbar_location=None)
    p.outline_line_color = None
    p.xgrid.grid_line_color = None
    p.ygrid.grid_line_color = None
    for ax, c in ((p.xaxis, DARK), (p.yaxis, AXBLUE)):
        ax.axis_line_color = c
        ax.axis_line_width = 2
        ax.major_tick_line_color = c
        ax.major_tick_line_width = 2
        ax.major_tick_in = 24
        ax.major_tick_out = 0
        ax.minor_tick_line_color = None
        ax.major_label_text_font = FONT
        ax.major_label_text_font_size = "39px"
        ax.major_label_text_color = c
        ax.axis_label_text_font = FONT
        ax.axis_label_text_font_style = "normal"
        ax.axis_label_text_color = c
    p.xaxis.axis_label_text_font_size = "46px"
    p.yaxis.axis_label_text_font_size = "40px"
    p.xaxis.ticker = FixedTicker(ticks=xticks)
    p.yaxis.ticker = FixedTicker(ticks=yticks)
    p.xaxis.axis_label = xlabel
    p.yaxis.axis_label = ylabel
    p.xaxis.major_label_standoff = 12
    p.yaxis.major_label_standoff = 30
    p.xaxis.axis_label_standoff = 4
    p.yaxis.axis_label_standoff = 26
    right = LinearAxis(ticker=FixedTicker(ticks=[]), axis_line_color=AXBLUE, axis_line_width=2,
                       major_tick_line_color=None, minor_tick_line_color=None)
    p.add_layout(right, "right")
    return p


def add_legend(p, items, loc, spacing):
    leg = Legend(items=[LegendItem(label=t, renderers=[r]) for t, r in items], location=loc,
                 glyph_width=233, glyph_height=36, label_height=36, label_standoff=24, spacing=spacing,
                 padding=0, margin=0, background_fill_alpha=0, border_line_alpha=0,
                 label_text_font=FONT, label_text_font_size="36px", label_text_color="black")
    p.add_layout(leg)


def shade(p, lo, hi):
    p.quad(left=shade_start, right=shade_end, bottom=lo, top=hi,
           fill_color="#FFFF00", fill_alpha=0.15, line_color=None)


b_t, b_lo, b_hi = cols(bt180)
f_t, f_v = cols(bt180_floor)
lb_t, lb_lo, lb_hi = cols(bt2510)
bt_ylim = (170, 305)
bt_yticks = [180, 200, 220, 240, 260, 280, 300]
xlab_hours = "UTC hours on " + date

# panel 1: window BT at four scan angles
p1 = make_fig((0, 24), bt_ylim, hour_ticks, bt_yticks, xlab_hours, "AERI 985-900 cm\u207b\u00b9 (Window) BT", 196)
r180 = p1.segment(x0=b_t, y0=b_lo, x1=b_t, y1=b_hi, line_color="#0000FF", line_width=9)
p1.line(f_t, f_v, line_color="#0000FF", line_width=2)
t, v = cols(bt125)
r125 = p1.line(t, v, line_color="#008000", line_width=7, line_join="round")
t, v = cols(bt95)
r95 = p1.line(t, v, line_color="#FFA500", line_width=7, line_join="round")
t, v = cols(bt85)
r85 = p1.line(t, v, line_color="#A52A2A", line_width=7, line_join="round")
shade(p1, *bt_ylim)
add_legend(p1, [("85\u00b0 WRT Nadir", r85), ("95\u00b0 WRT Nadir", r95),
                ("125\u00b0 WRT Nadir", r125), ("180\u00b0 WRT Nadir", r180)], (1025, 66), 4)

# panel 2: zenith window BTs
p2 = make_fig((0, 24), bt_ylim, hour_ticks, bt_yticks, xlab_hours, "Zenith BTs, K", 33)
rb = p2.segment(x0=b_t, y0=b_lo, x1=b_t, y1=b_hi, line_color="#0000FF", line_width=9)
p2.line(f_t, f_v, line_color="#0000FF", line_width=2)
rlb = p2.segment(x0=lb_t, y0=lb_lo, x1=lb_t, y1=lb_hi, line_color="#ADD8E6", line_width=5)
shade(p2, *bt_ylim)
add_legend(p2, [("AERI 985-900 cm\u207b\u00b9 (Window)", rb),
                ("AERI 2510-2515 cm\u207b\u00b9 (Window)", rlb)], (1534, 38), 2)

# panel 3: surface air channels
hours3 = [round(0.2 * i, 1) for i in range(len(sa_675))]
p3 = make_fig((0, 24), (278.15, 298.15), hour_ticks, list(range(280, 299, 2)), xlab_hours, "Zenith BTs, K", 33)
r675 = p3.line(hours3, sa_675, line_color="#FFA500", line_width=7)
r700 = p3.line(hours3, sa_700, line_color="#0000FF", line_width=7)
r2295 = p3.line(hours3, sa_2295, line_color="#A52A2A", line_width=4)
r2282 = p3.line(hours3, sa_2282, line_color="#ADD8E6", line_width=4)
shade(p3, *sa_shade)
add_legend(p3, [("AERI 675-680 cm\u207b\u00b9 (Surf Air)", r675), ("AERI 700-705 cm\u207b\u00b9", r700),
                ("AERI 2295-2300 cm\u207b\u00b9 (Surf Air)", r2295), ("AERI 2282-2287 cm\u207b\u00b9", r2282)],
           (1534, 380), 4)

rad_label = "Mean Radiance, mW/(m\u00b2 sr cm\u207b\u00b9)"
wn_label = "Wavenumber, cm\u207b\u00b9"
mean_label = "Mean Radiance 0 to 24h UTC " + date

# panel 4: longwave mean spectra
p4 = make_fig((520, 1800), (1.8, 143), list(range(600, 1801, 200)), list(range(20, 141, 20)),
              wn_label, rad_label, 33)
w, r = cols(rad_lw_mean)
rm4 = p4.line(w, r, line_color="black", line_width=3.5)
w, r = cols(rad_lw_cloudy)
rc4 = p4.line(w, r, line_color="#FF0000", line_width=3.5)
add_legend(p4, [(mean_label, rm4), ("... cloudy", rc4)], (1453, 518), 0)

# panel 5: shortwave mean spectra
p5 = make_fig((1800, 3020), (-0.38, 9.4), list(range(1800, 3001, 200)), list(range(0, 10)),
              wn_label, rad_label, 33)
w, r = cols(rad_sw_mean)
rm5 = p5.line(w, r, line_color="black", line_width=3.5)
w, r = cols(rad_sw_cloudy)
rc5 = p5.line(w, r, line_color="#FF0000", line_width=3.5)
add_legend(p5, [(mean_label, rm5), ("... cloudy", rc5)], (1453, 518), 0)

layout = column(p1, p2, p3, p4, p5, spacing=0)
open("out.html", "w").write(file_html(layout, INLINE))
